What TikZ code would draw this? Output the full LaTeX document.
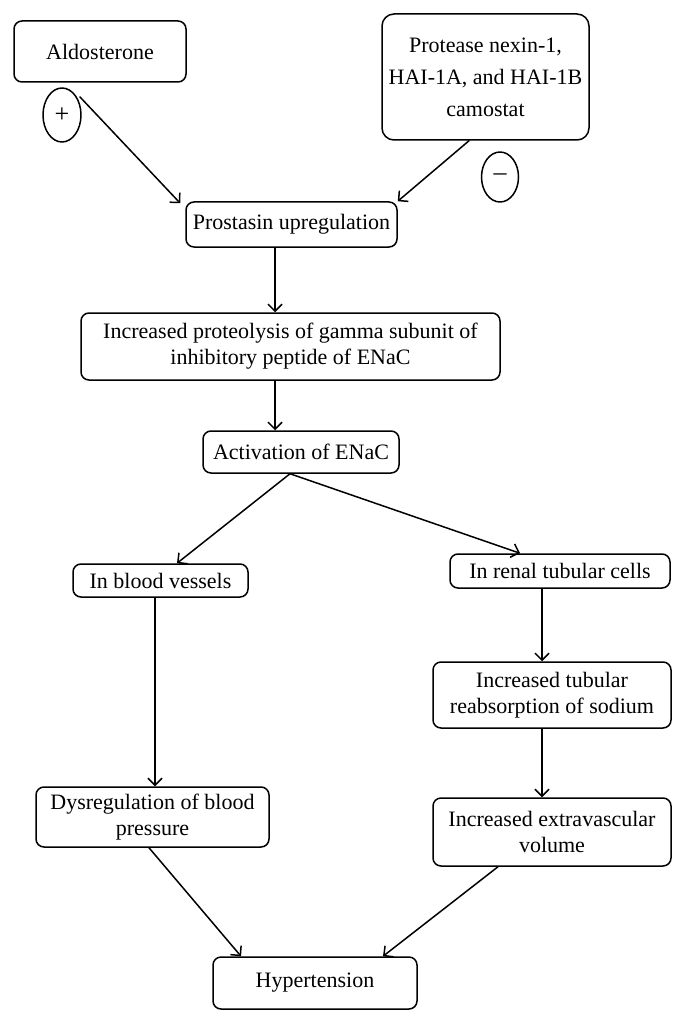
\documentclass[tikz,border=0pt]{standalone}
\usepackage{fontspec}
\setmainfont{Liberation Serif}
\usetikzlibrary{arrows.meta,shapes.geometric}

\tikzset{
  box/.style={draw, rounded corners=8pt, align=center, inner sep=0pt,
              font=\fontsize{22}{26}\selectfont},
  sign/.style={draw, ellipse, inner sep=0pt, font=\fontsize{26}{28}\selectfont},
  arr/.style={-{Straight Barb[length=7pt,width=14pt]}},
}

\begin{document}
\begin{tikzpicture}[x=1pt, y=-1pt, line width=1.5pt, line cap=round, line join=round]

  %% ════ top: regulators ════
  \node[box, minimum width=172, minimum height=61] (aldo) at (100,51.5) {Aldosterone};
  \node[box, minimum width=207, minimum height=126, rounded corners=12pt] (protease) at (485.5,77)
    {Protease nexin-1,\\[6pt] HAI-1A, and HAI-1B\\[6pt] camostat};
  \node[sign, minimum width=38, minimum height=54] (plus) at (62,115) {+};
  \node[sign, minimum width=37, minimum height=50] (minus) at (500,177) {--};
  \coordinate (aldoout) at (80,97);

  %% ════ main chain ════
  \node[box, minimum width=211, minimum height=45] (prostasin) at (291.5,224.5) {Prostasin upregulation};
  \node[box, minimum width=419, minimum height=67] (proteo) at (290.5,346.5)
    {Increased proteolysis of gamma subunit of\\ inhibitory peptide of ENaC};
  \node[box, minimum width=196, minimum height=42] (activation) at (301,452) {Activation of ENaC};

  %% ════ two branches ════
  \node[box, minimum width=175, minimum height=33] (blood) at (160.5,580.5) {In blood vessels};
  \node[box, minimum width=220, minimum height=34] (renal) at (560,571) {In renal tubular cells};
  \node[box, minimum width=238, minimum height=66] (tubular) at (552,695)
    {Increased tubular\\ reabsorption of sodium};
  \node[box, minimum width=233, minimum height=60] (dysreg) at (152.5,817)
    {Dysregulation of blood\\ pressure};
  \node[box, minimum width=238, minimum height=68] (extra) at (552,832)
    {Increased extravascular\\ volume};
  \node[box, minimum width=204, minimum height=52] (hyper) at (315,983) {Hypertension};

  %% ════ connectors ════
  \draw[arr] (aldoout) -- ([xshift=-5pt,yshift=-2pt]prostasin.north west);
  \draw[arr] ([xshift=-16.5pt]protease.south) -- (prostasin.north east);
  \draw[arr] ([xshift=-16.5pt]prostasin.south) -- ([xshift=-15.5pt]proteo.north);
  \draw[arr] ([xshift=-15.5pt]proteo.south) -- ([xshift=-26pt]activation.north);
  \draw[arr] ([xshift=-11pt]activation.south) -- ([xshift=16.5pt]blood.north);
  \draw[arr] ([xshift=-11pt]activation.south) -- ([xshift=-40pt]renal.north);
  \draw[arr] ([xshift=-5.5pt]blood.south) -- ([xshift=2.5pt]dysreg.north);
  \draw[arr] ([xshift=-18pt]renal.south) -- ([xshift=-10pt]tubular.north);
  \draw[arr] ([xshift=-10pt]tubular.south) -- ([xshift=-10pt]extra.north);
  \draw[arr] ([xshift=-3.5pt]dysreg.south) -- ([xshift=-74pt]hyper.north);
  \draw[arr] ([xshift=-54pt]extra.south) -- ([xshift=68pt]hyper.north);

  \pgfresetboundingbox
  \path[use as bounding box] (0,0) rectangle (684,1024);
\end{tikzpicture}
\end{document}
